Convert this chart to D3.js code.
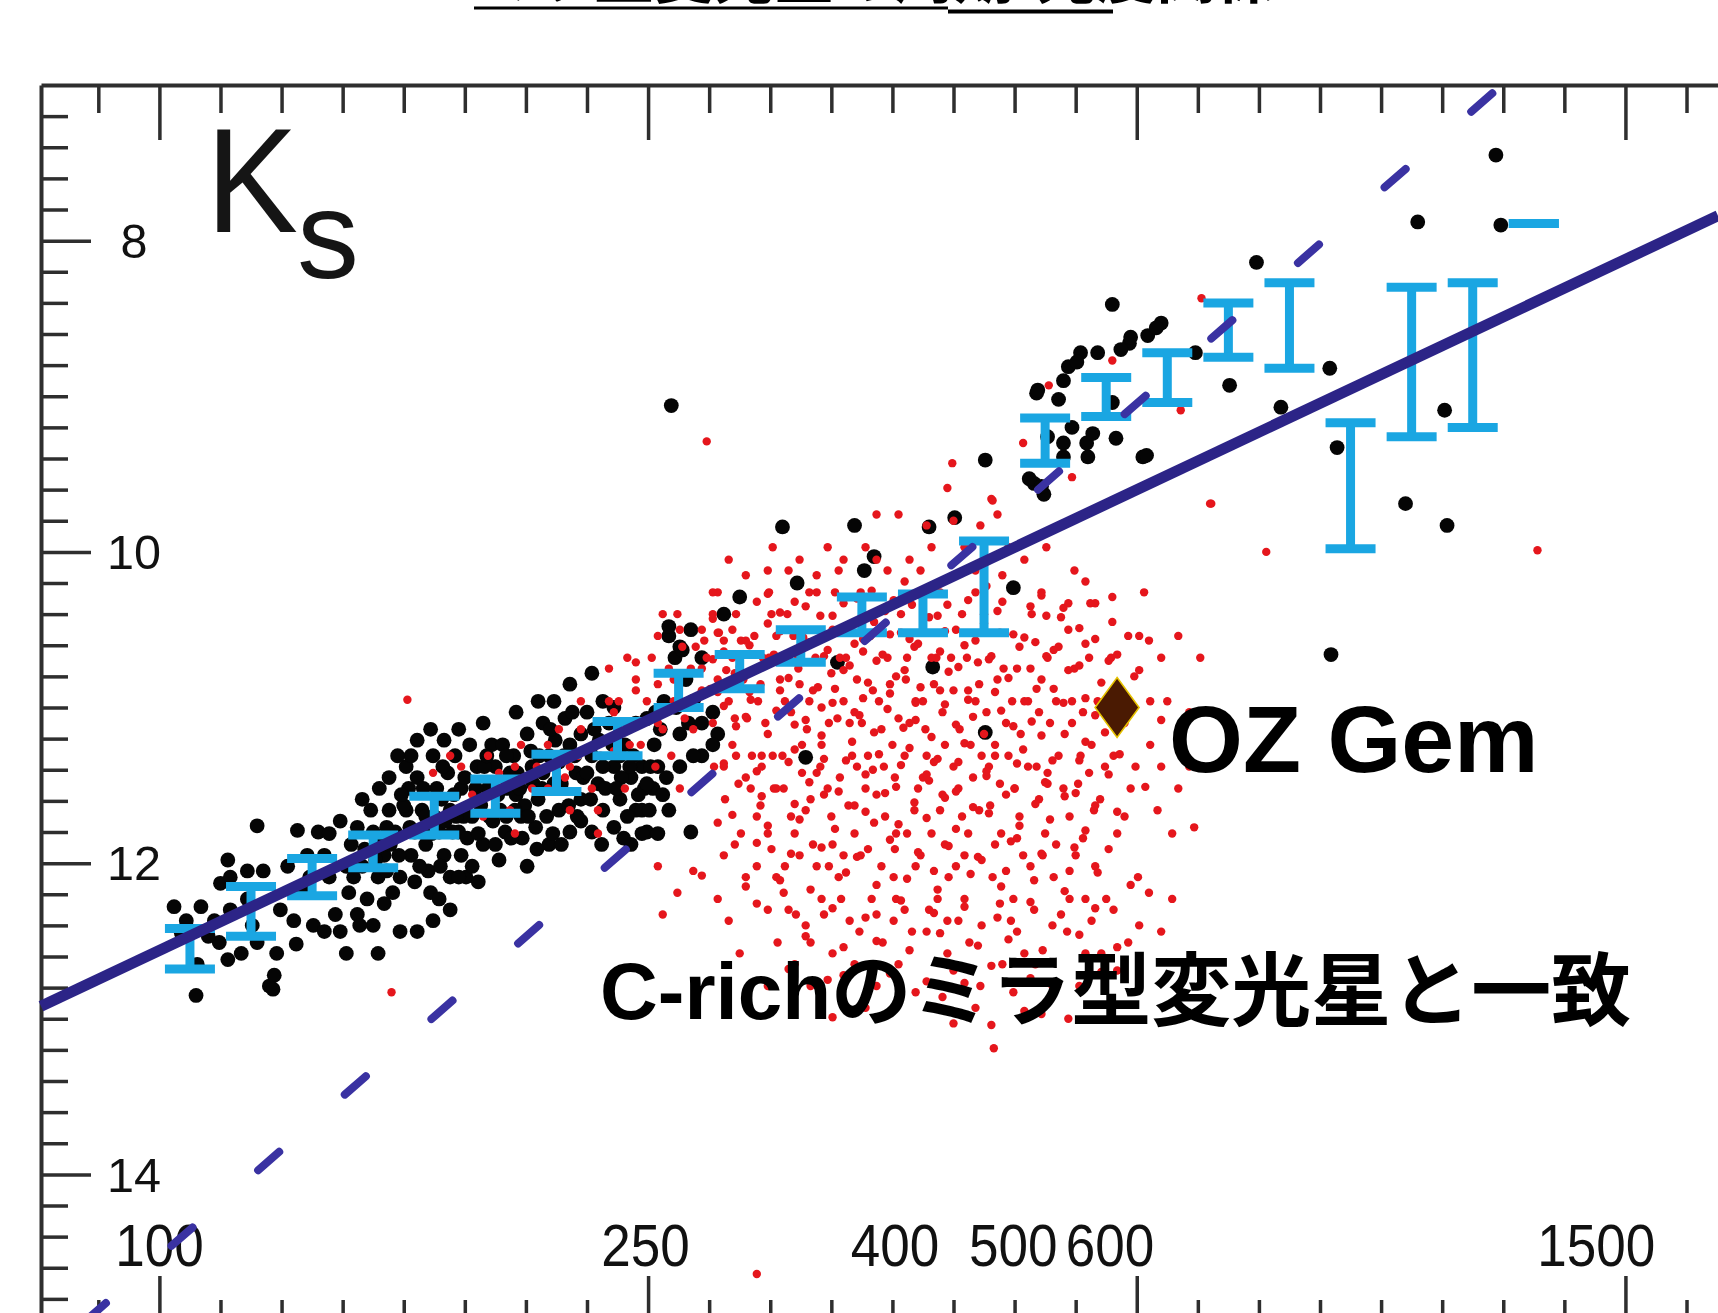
<!DOCTYPE html>
<html><head><meta charset="utf-8">
<script src="https://cdn.jsdelivr.net/npm/d3@7"></script>
<style>
html,body{margin:0;padding:0;background:#fff;overflow:hidden}
svg{display:block}
</style></head><body>
<svg id="chart" width="1718" height="1313"></svg>
<script>
// ---------------- data ----------------
const xTickLabels = [100, 250, 400, 500, 600, 1500];
const yTickLabels = [8, 10, 12, 14];
const xMajorLogP = [2.0, 2.4, 2.8, 3.2];

// binned means (log P centre, Ks upper end, Ks lower end)
const binLogP   = [2.025,2.075,2.125,2.175,2.225,2.275,2.325,2.375,2.425,2.475,2.525,2.575,2.625,2.675,
                   2.725,2.775,2.825,2.875,2.925,2.975,3.025,3.075,3.125];
const binKsTop  = [12.42,12.15,11.97,11.82,11.57,11.46,11.30,11.09,10.78,10.66,10.50,10.29,10.27,9.93,
                   9.14,8.88,8.72,8.40,8.27,9.17,8.30,8.27,7.89];
const binKsBot  = [12.68,12.47,12.21,12.03,11.82,11.68,11.54,11.31,11.00,10.88,10.71,10.52,10.52,10.52,
                   9.43,9.13,9.04,8.75,8.82,9.98,9.26,9.20,7.89];

// P-L relation (solid) and limit line (dashed): [period, Ks] end points
const plLine    = [[80, 12.92], [1887, 7.84]];
const limitLine = [[85.3, 15.0], [1255.5, 7.0]];

const ozGem = {name: "OZ Gem", period: 608, ks: 11.0};

// black points [log P, Ks]
const blackStars = [
[2.012,12.28],[2.034,12.28],[2.056,11.98],[2.080,11.76],[2.085,12.05],[2.105,12.02],[2.018,12.45],[2.049,12.51],[2.067,12.58],[2.031,12.65],
[2.030,12.85],[2.090,12.79],[2.094,12.72],[2.112,12.52],[2.117,12.17],[2.130,11.80],[2.139,12.09],[2.144,12.33],[2.153,12.58],[2.126,12.40],
[2.045,12.37],[2.072,12.23],[2.099,12.30],[2.135,11.95],[2.148,12.44],[2.050,12.13],[2.056,12.62],[2.093,12.81],[2.113,11.79],[2.080,12.51],
[2.157,11.88],[2.166,12.02],[2.175,11.80],[2.170,12.23],[2.179,12.09],[2.184,11.95],[2.188,11.66],[2.193,11.80],[2.197,12.09],[2.202,11.38],
[2.204,11.52],[2.206,11.31],[2.211,11.45],[2.215,11.66],[2.218,11.88],[2.220,12.05],[2.222,12.19],[2.224,11.31],[2.227,11.52],[2.229,11.80],
[2.233,11.95],[2.236,11.42],[2.238,11.66],[2.242,11.31],[2.245,11.80],[2.247,11.52],[2.251,12.09],[2.254,11.24],[2.256,11.70],[2.260,11.38],
[2.265,11.88],[2.269,11.52],[2.272,11.24],[2.273,11.73],[2.224,12.37],[2.197,12.44],[2.175,12.40],[2.229,12.23],[2.238,12.09],[2.188,11.45],
[2.195,11.31],[2.247,11.95],[2.256,12.02],[2.148,11.73],[2.159,12.09],[2.173,11.66],[2.180,11.52],[2.209,11.80],[2.216,11.52],[2.231,11.59],
[2.240,11.80],[2.263,11.63],[2.275,11.38],[2.281,11.24],[2.284,11.52],[2.211,11.21],[2.222,11.14],[2.233,11.21],[2.245,11.14],[2.265,11.10],
[2.202,11.66],[2.206,11.95],[2.162,12.33],[2.184,12.26],[2.211,12.44],[2.238,12.30],[2.179,12.58],
[2.283,11.80],[2.290,11.31],[2.292,11.56],[2.296,11.70],[2.301,11.17],[2.305,11.38],[2.310,11.59],[2.314,11.10],[2.319,11.31],[2.323,11.49],
[2.327,11.66],[2.332,11.07],[2.336,11.24],[2.341,11.42],[2.345,11.59],[2.350,11.03],[2.354,11.31],[2.359,11.49],[2.363,11.66],[2.368,11.10],
[2.372,11.38],[2.377,11.59],[2.381,11.24],[2.386,11.45],[2.390,11.66],[2.395,11.38],[2.399,11.07],[2.404,11.52],[2.408,11.38],[2.292,11.03],
[2.310,10.96],[2.336,10.85],[2.354,10.78],[2.301,12.02],[2.319,11.88],[2.336,11.80],[2.354,11.80],[2.372,11.77],[2.386,11.88],[2.399,11.80],
[2.395,11.66],[2.377,11.31],[2.327,11.35],[2.345,11.17],[2.363,10.96],[2.287,11.42],[2.314,11.42],[2.278,11.98],[2.323,10.96],
[2.162,11.77],[2.168,11.91],[2.182,11.84],[2.186,12.05],[2.191,12.19],[2.200,11.63],[2.205,11.77],[2.213,12.02],[2.225,11.70],[2.232,11.38],
[2.241,11.56],[2.249,11.70],[2.252,11.84],[2.259,11.52],[2.266,11.38],[2.270,11.70],[2.277,11.56],[2.284,11.70],[2.293,11.42],[2.299,11.63],
[2.306,11.49],[2.311,11.31],[2.317,11.70],[2.324,11.21],[2.329,11.49],[2.335,11.63],[2.340,11.31],[2.347,11.45],[2.353,11.59],[2.360,11.21],
[2.365,11.52],[2.371,11.24],[2.378,11.45],[2.383,11.70],[2.388,11.31],[2.397,11.52],[2.405,11.24],[2.410,11.14],[2.297,11.84],[2.308,11.77],
[2.329,11.88],[2.345,11.73],[2.362,11.88],[2.380,11.84],[2.401,11.66],[2.412,11.56],[2.284,11.31],[2.304,11.28],[2.320,11.14],[2.338,11.03],
[2.356,11.14],[2.372,11.00],[2.390,11.10],[2.406,11.03],[2.423,11.00],[2.437,10.96],[2.433,11.10],[2.444,11.10],[2.453,11.03],
[2.413,10.96],[2.417,10.54],[2.422,10.68],[2.426,10.61],[2.431,10.82],[2.419,9.06],[2.435,10.50],[2.444,10.68],[2.426,11.38],[2.444,11.31],
[2.457,11.17],[2.417,11.66],[2.435,11.80],[2.462,10.40],[2.475,10.29],
[2.022,12.37],[2.040,12.47],[2.058,12.30],[2.076,12.40],[2.096,12.58],[2.110,12.37],[2.123,12.09],[2.135,12.44],[2.155,12.19],[2.164,12.40],
[2.177,11.98],[2.189,11.88],[2.198,11.56],[2.209,12.12],[2.223,11.81],[2.234,11.73],[2.243,11.70],[2.250,11.45],[2.261,11.81],[2.268,11.31],
[2.279,11.66],[2.288,11.84],[2.295,11.52],[2.302,11.70],[2.313,11.52],[2.322,11.81],[2.331,11.31],[2.342,11.70],[2.350,11.42],[2.363,11.38],
[2.374,11.52],[2.385,11.38],[2.392,11.56],[2.402,11.38],[2.415,11.45],[2.426,11.17],[2.437,11.31],[2.453,11.24],[2.408,11.81],[2.395,11.81],
[2.166,11.59],[2.186,11.77],[2.196,11.95],[2.218,11.70],[2.230,12.02],[2.245,12.09],[2.261,12.12],[2.275,11.88],[2.291,11.66],[2.309,11.91],
[2.058,12.09],[2.072,12.05],[2.121,11.95],[2.139,11.81],[2.153,12.02],
[2.510,9.84],[2.569,9.83],[2.630,9.84],[2.651,9.78],[2.676,9.41],[2.716,9.56],[2.760,9.39],[2.805,9.39],[2.585,10.03],[2.577,10.12],
[2.522,10.20],[2.699,10.23],[2.417,10.48],[2.428,10.63],[2.529,11.32],[2.399,11.49],[2.633,10.74],[2.676,11.16],[2.555,10.71],[2.712,9.53],
[2.724,9.63],
[3.094,7.45],[3.030,7.88],[3.098,7.90],[2.898,8.14],[2.780,8.41],[2.820,8.53],[2.809,8.61],[2.794,8.66],[2.787,8.70],[2.754,8.72],
[2.744,8.81],[2.718,8.98],[2.736,9.02],[2.848,8.72],[2.876,8.93],[2.958,8.82],[2.918,9.07],[3.052,9.09],[2.964,9.33],[3.020,9.69],
[3.054,9.83],[2.783,9.27],[2.808,9.38],[2.759,9.30],[2.740,9.30],[2.727,9.26],[2.722,9.58],[2.780,9.04],[2.719,8.96],[2.740,8.90],
[2.751,8.78],[2.768,8.72],[2.795,8.62],[2.816,8.56],[2.747,9.20],[2.764,9.24],[2.740,9.39],[2.959,10.66]
];

// red points [log P, Ks]
const redStars = [
[2.203,10.95],[2.224,11.42],[2.238,11.31],[2.256,11.56],[2.269,11.31],[2.278,11.42],[2.265,11.70],[2.247,11.38],[2.287,11.66],[2.296,11.24],
[2.309,11.38],[2.318,11.52],[2.327,11.14],[2.336,11.38],[2.345,10.96],[2.354,11.52],[2.361,11.31],[2.368,10.75],[2.372,11.03],[2.291,11.81],
[2.336,11.66],[2.359,11.81],[2.376,10.96],[2.383,10.68],[2.390,10.82],[2.394,11.10],[2.399,10.96],[2.403,10.68],[2.408,10.85],[2.412,11.14],
[2.417,10.75],[2.421,10.96],[2.426,10.50],[2.430,11.07],[2.435,10.75],[2.439,10.61],[2.444,10.89],[2.408,12.02],[2.424,12.19],[2.437,12.05],
[2.412,12.33],[2.390,10.89],[2.385,11.24],[2.406,11.38],[2.426,11.52],[2.448,9.29],[2.448,10.68],[2.453,10.40],[2.457,10.82],[2.462,10.57],
[2.466,10.96],[2.469,10.68],[2.472,10.40],[2.478,10.82],[2.481,11.07],[2.487,10.54],[2.490,10.96],[2.494,10.68],[2.453,11.10],[2.462,11.38],
[2.472,11.31],[2.484,11.52],[2.493,11.38],[2.457,11.74],[2.471,11.88],[2.480,12.09],[2.489,11.70],[2.498,11.81],[2.475,12.58],[2.498,12.79],
[2.457,12.23],[2.466,12.37],[2.499,10.26],[2.505,10.54],[2.508,10.82],[2.514,10.40],[2.517,11.03],[2.523,10.68],[2.526,11.24],[2.532,10.26],
[2.535,10.89],[2.541,11.38],[2.544,10.54],[2.548,11.10],[2.502,11.31],[2.511,11.52],[2.520,11.81],[2.529,11.66],[2.538,12.02],[2.547,11.52],
[2.505,12.09],[2.515,12.30],[2.533,12.51],[2.542,12.23],[2.506,12.51],[2.520,12.65],[2.551,11.88],[2.502,9.97],[2.524,10.05],[2.547,9.97],
[2.553,10.26],[2.557,10.68],[2.560,10.96],[2.564,10.47],[2.567,11.31],[2.571,10.82],[2.575,11.10],[2.578,11.52],[2.582,10.54],[2.585,11.74],
[2.589,10.96],[2.593,11.38],[2.596,10.68],[2.600,11.24],[2.603,11.81],[2.556,12.09],[2.565,12.37],[2.574,11.95],[2.583,12.23],[2.592,12.51],
[2.601,12.09],[2.560,10.05],[2.578,9.97],[2.596,10.12],[2.605,9.76],[2.587,9.76],[2.569,12.65],[2.587,12.79],[2.601,12.37],[2.607,10.40],
[2.611,10.82],[2.614,11.10],[2.618,10.61],[2.621,11.52],[2.625,10.96],[2.628,11.31],[2.632,11.81],[2.636,10.68],[2.639,11.66],[2.643,11.24],
[2.646,12.09],[2.650,10.89],[2.654,11.52],[2.657,10.40],[2.610,12.30],[2.619,12.02],[2.628,12.44],[2.637,12.23],[2.645,12.58],[2.654,12.37],
[2.614,10.05],[2.632,9.97],[2.645,9.59],[2.650,9.80],[2.628,9.83],[2.641,12.86],[2.659,11.95],[2.661,10.68],[2.664,11.24],[2.668,10.96],
[2.671,11.66],[2.675,10.40],[2.679,11.38],[2.682,12.09],[2.686,10.82],[2.689,11.81],[2.693,11.10],[2.697,12.37],[2.700,11.52],[2.704,10.61],
[2.707,11.95],[2.711,10.96],[2.663,12.51],[2.672,12.79],[2.681,13.04],[2.683,13.19],[2.690,12.65],[2.699,12.23],[2.708,12.58],[2.681,9.66],
[2.686,9.76],[2.668,10.12],[2.695,9.97],[2.677,10.22],[2.714,10.40],[2.718,11.38],[2.722,10.82],[2.725,11.81],[2.729,11.10],[2.732,12.09],
[2.736,10.61],[2.740,11.52],[2.743,12.44],[2.747,10.96],[2.750,11.95],[2.754,11.31],[2.758,12.23],[2.761,10.68],[2.765,11.66],[2.717,12.65],
[2.731,12.79],[2.744,13.00],[2.758,12.58],[2.726,9.97],[2.749,10.12],[2.766,10.33],[2.768,10.96],[2.774,11.38],[2.779,10.68],[2.784,11.81],
[2.790,11.10],[2.795,11.52],[2.801,12.09],[2.806,10.26],[2.811,11.24],[2.817,11.66],[2.775,12.23],[2.793,12.51],[2.810,12.19],[2.771,12.58],
[2.802,10.54],[2.820,10.68],[2.825,10.96],[2.834,10.54],[2.843,11.38],[2.847,11.77],[2.829,11.81],[2.861,9.69],[2.489,14.64],[2.190,12.83],
[2.451,10.88],[2.458,10.52],[2.464,10.76],[2.471,11.07],[2.476,10.57],[2.483,10.90],[2.489,10.75],[2.496,11.10],[2.501,10.40],[2.506,10.68],
[2.512,10.96],[2.519,10.54],[2.524,10.85],[2.530,11.14],[2.537,10.68],[2.542,11.00],[2.550,10.78],[2.555,11.07],[2.562,10.68],[2.569,11.03],
[2.576,10.64],[2.584,10.89],[2.591,11.14],[2.598,10.85],[2.605,11.07],[2.612,10.68],[2.619,10.96],[2.627,11.14],[2.634,10.85],[2.641,11.03],
[2.648,10.68],[2.655,11.14],[2.662,10.89],[2.670,10.71],[2.677,11.03],[2.684,11.24],[2.691,10.75],[2.698,10.96],[2.705,11.17],[2.713,10.75],
[2.720,11.03],[2.727,10.68],[2.734,10.96],[2.741,11.17],[2.749,10.75],[2.756,11.03],[2.763,11.24],
[2.454,11.38],[2.463,11.59],[2.474,11.49],[2.485,11.31],[2.492,11.63],[2.503,11.52],[2.510,11.31],[2.517,11.70],[2.526,11.42],[2.533,11.59],
[2.542,11.24],[2.550,11.70],[2.557,11.45],[2.564,11.63],[2.571,11.38],[2.580,11.31],[2.587,11.56],[2.594,11.70],[2.602,11.45],[2.610,11.31],
[2.618,11.66],[2.625,11.45],[2.634,11.35],[2.641,11.56],[2.650,11.38],[2.657,11.70],[2.666,11.45],[2.673,11.31],[2.680,11.63],[2.688,11.49],
[2.695,11.31],[2.704,11.70],[2.711,11.38],[2.720,11.59],[2.727,11.49],[2.736,11.31],[2.745,11.70],[2.752,11.49],[2.761,11.42],[2.770,11.59],
[2.781,11.31],[2.790,11.70],[2.799,11.38],
[2.462,11.95],[2.476,11.81],[2.489,12.02],[2.501,11.91],[2.512,12.02],[2.524,11.95],[2.535,11.88],[2.548,12.02],[2.560,11.95],[2.569,11.81],
[2.580,11.91],[2.591,12.02],[2.602,11.91],[2.612,11.81],[2.623,11.95],[2.634,12.05],[2.643,11.88],[2.652,12.02],[2.662,11.81],[2.673,11.98],
[2.684,11.88],[2.693,12.05],[2.702,11.84],[2.713,12.02],[2.723,11.95],[2.734,11.88],[2.745,12.05],[2.756,11.84],[2.766,12.02],[2.777,11.91],
[2.498,12.30],[2.511,12.19],[2.529,12.40],[2.544,12.33],[2.558,12.23],[2.573,12.44],[2.587,12.33],[2.603,12.23],[2.616,12.44],[2.630,12.30],
[2.645,12.37],[2.659,12.23],[2.673,12.40],[2.688,12.26],[2.702,12.44],[2.716,12.30],[2.731,12.40],[2.745,12.23],[2.763,12.37],[2.781,12.30],
[2.802,12.40],
[2.533,12.79],[2.560,12.72],[2.578,12.93],[2.605,12.65],[2.628,12.76],[2.650,12.69],[2.668,12.93],[2.699,12.83],[2.722,12.97],[2.753,12.79],
[2.784,12.69],[2.551,12.58],[2.619,12.83],
[2.515,10.12],[2.538,10.15],[2.556,10.12],[2.574,10.26],[2.587,10.05],[2.610,10.19],[2.623,10.12],[2.639,10.26],[2.659,9.97],[2.672,9.83],
[2.690,10.15],[2.708,10.05],[2.722,10.26],[2.740,10.36],[2.758,10.19],[2.780,10.29],[2.793,10.54],[2.811,10.96],[2.820,11.38],[2.834,11.52],
[2.843,11.03],[2.852,10.68],[2.829,12.23],[2.820,12.44],
[2.649,9.43],[2.707,9.30],[2.728,8.93],[2.780,8.77],[2.836,9.09],[2.860,9.69],[2.906,10.00],[3.128,9.99],[2.682,9.67],[2.747,9.52],[2.853,8.37],
[2.489,10.32],[2.508,10.39],[2.529,10.35],[2.551,10.41],[2.571,10.30],[2.594,10.38],[2.616,10.34],[2.637,10.41],[2.662,10.31],[2.686,10.38],
[2.713,10.35],[2.738,10.42],[2.762,10.33],
[2.453,10.43],[2.469,10.50],[2.498,10.46],[2.520,10.52],[2.541,10.41],[2.565,10.49],[2.585,10.45],[2.607,10.52],[2.630,10.42],[2.652,10.50],
[2.675,10.46],[2.699,10.53],[2.726,10.41],[2.753,10.49],[2.780,10.45],
[2.446,10.57],[2.462,10.64],[2.483,10.60],[2.503,10.66],[2.527,10.55],[2.547,10.63],[2.569,10.59],[2.592,10.66],[2.614,10.56],[2.639,10.64],
[2.659,10.60],[2.681,10.67],[2.708,10.55],[2.732,10.63],[2.758,10.59],[2.784,10.66],[2.810,10.57],
[2.471,10.78],[2.492,10.85],[2.515,10.81],[2.539,10.87],[2.560,10.76],[2.580,10.84],[2.603,10.80],[2.623,10.87],[2.646,10.77],[2.671,10.85],
[2.695,10.81],[2.718,10.88],[2.744,10.76],[2.771,10.84],[2.798,10.80],
[2.462,10.99],[2.480,11.06],[2.505,11.02],[2.529,11.08],[2.551,10.97],[2.573,11.05],[2.596,11.01],[2.619,11.08],[2.643,10.98],[2.666,11.06],
[2.689,11.02],[2.714,11.09],[2.740,10.97],[2.766,11.05],[2.793,11.01],[2.820,11.08],
[2.469,11.24],[2.493,11.31],[2.520,11.27],[2.544,11.33],[2.567,11.22],[2.589,11.30],[2.614,11.26],[2.637,11.33],[2.659,11.23],[2.684,11.31],
[2.707,11.27],[2.731,11.34],[2.758,11.22],[2.786,11.30],
[2.480,11.45],[2.505,11.52],[2.532,11.48],[2.556,11.54],[2.578,11.43],[2.603,11.51],[2.630,11.47],[2.652,11.54],[2.677,11.44],[2.700,11.52],
[2.725,11.48],[2.750,11.55],[2.777,11.43],[2.807,11.51],
[2.469,11.69],[2.498,11.76],[2.524,11.72],[2.553,11.78],[2.578,11.67],[2.605,11.75],[2.628,11.71],[2.652,11.78],[2.679,11.68],[2.704,11.76],
[2.729,11.72],[2.758,11.79],[2.784,11.67],
[2.489,11.87],[2.517,11.94],[2.542,11.90],[2.571,11.96],[2.598,11.85],[2.621,11.93],[2.646,11.89],[2.670,11.96],[2.697,11.86],[2.722,11.94],
[2.749,11.90],
[2.444,12.08],[2.480,12.15],[2.508,12.11],[2.533,12.17],[2.562,12.06],[2.587,12.14],[2.612,12.10],[2.637,12.17],[2.664,12.07],[2.689,12.15],
[2.716,12.11],[2.741,12.18],[2.768,12.06],[2.795,12.14],
[2.489,12.26],[2.521,12.33],[2.551,12.29],[2.578,12.35],[2.607,12.24],[2.634,12.32],[2.659,12.28],[2.686,12.35],[2.713,12.25],[2.738,12.33],
[2.766,12.29],
[2.529,12.47],[2.560,12.54],[2.587,12.50],[2.614,12.56],[2.639,12.45],[2.670,12.53],[2.695,12.49],[2.723,12.56],[2.753,12.46],[2.784,12.54],
[2.515,12.68],[2.547,12.75],[2.598,12.71],[2.659,12.77],[2.681,12.66],[2.713,12.74],[2.771,12.70],
[2.551,12.99],[2.650,13.03],[2.708,12.95],
[2.291,11.38],[2.305,11.52],[2.318,11.24],[2.332,11.45],[2.343,11.31],[2.359,11.66],[2.372,11.28],[2.381,11.52],[2.394,11.24],[2.408,11.10],
[2.419,11.31],[2.431,10.96],[2.444,10.75],[2.408,10.54],[2.424,10.40],[2.457,10.26],[2.480,10.15],[2.498,10.12],[2.466,10.05],[2.390,10.71],
[2.368,10.96],[2.345,11.14],
[2.498,10.27],[2.520,10.32],[2.538,10.26],[2.560,10.33],[2.583,10.25],[2.601,10.31],[2.623,10.28],[2.645,10.34],[2.668,10.26],[2.690,10.32],
[2.722,10.28],[2.744,10.33],
[2.457,10.52],[2.480,10.57],[2.508,10.51],[2.532,10.58],[2.551,10.50],[2.576,10.56],[2.598,10.53],[2.621,10.59],[2.643,10.51],[2.668,10.57],
[2.688,10.52],[2.717,10.58],[2.744,10.50],[2.766,10.56],
[2.453,10.69],[2.475,10.74],[2.499,10.68],[2.523,10.75],[2.544,10.67],[2.565,10.73],[2.587,10.70],[2.610,10.76],[2.632,10.68],[2.654,10.74],
[2.679,10.69],[2.702,10.75],[2.726,10.67],[2.753,10.73],[2.777,10.70],[2.802,10.76],
[2.457,10.90],[2.484,10.95],[2.508,10.89],[2.532,10.96],[2.553,10.88],[2.576,10.94],[2.598,10.91],[2.619,10.97],[2.639,10.89],[2.662,10.95],
[2.684,10.90],[2.708,10.96],[2.732,10.88],[2.758,10.94],[2.783,10.91],
[2.472,11.12],[2.498,11.17],[2.520,11.11],[2.542,11.18],[2.565,11.10],[2.585,11.16],[2.609,11.13],[2.632,11.19],[2.652,11.11],[2.675,11.17],
[2.699,11.12],[2.722,11.18],[2.747,11.10],[2.774,11.16],
[2.462,11.36],[2.489,11.41],[2.515,11.35],[2.538,11.42],[2.562,11.34],[2.584,11.40],[2.607,11.37],[2.628,11.43],[2.654,11.35],[2.677,11.41],
[2.702,11.36],[2.727,11.42],[2.753,11.34],
[2.493,11.57],[2.520,11.62],[2.544,11.56],[2.569,11.63],[2.594,11.55],[2.618,11.61],[2.643,11.58],[2.666,11.64],[2.693,11.56],[2.717,11.62],
[2.741,11.57],[2.766,11.63],
[2.412,10.40],[2.428,10.61],[2.444,10.50],[2.453,10.26],[2.437,11.14],[2.421,10.82]
];

// ---------------- drawing ----------------
const W = 1718, H = 1313;
const svg = d3.select("#chart");
svg.append("rect").attr("width", W).attr("height", H).attr("fill", "#fff");

const x = d3.scaleLog().domain([80, 1887]).range([41, 1718]);
const y = d3.scaleLinear().domain([7, 15]).range([85, 1330]);
const px = lp => x(Math.pow(10, lp));

const axisColor = "#2e2e2e";
const labelFont = "'Liberation Sans',Arial,sans-serif";

// tick positions
const majorP = xMajorLogP.map(v => Math.pow(10, v));
const minorP = d3.range(1.95, 3.3, 0.05)
  .filter(v => !xMajorLogP.some(m => Math.abs(m - v) < 1e-6))
  .map(v => Math.pow(10, v));
const minorKs = d3.range(7.2, 15, 0.2).filter(v => Math.abs(v / 2 - Math.round(v / 2)) > 1e-6);

function styleAxis(g, keepDomain) {
  g.select(".domain").attr("stroke", axisColor).attr("stroke-width", 4).style("display", keepDomain ? null : "none");
  g.selectAll(".tick line").attr("stroke", axisColor).attr("stroke-width", 3.5);
  g.selectAll(".tick text").remove();
}

// top axis
svg.append("g").attr("transform", "translate(0,85)")
  .call(d3.axisBottom(x).tickValues(minorP).tickSize(28).tickSizeOuter(0).tickFormat(""))
  .call(g => styleAxis(g, true));
svg.append("g").attr("transform", "translate(0,85)")
  .call(d3.axisBottom(x).tickValues(majorP).tickSize(55).tickSizeOuter(0).tickFormat(""))
  .call(g => styleAxis(g, false));
// bottom axis (its line lies just below the visible area)
svg.append("g").attr("transform", "translate(0,1330)")
  .call(d3.axisTop(x).tickValues(minorP).tickSize(30).tickSizeOuter(0).tickFormat(""))
  .call(g => styleAxis(g, true));
svg.append("g").attr("transform", "translate(0,1330)")
  .call(d3.axisTop(x).tickValues(majorP).tickSize(54).tickSizeOuter(0).tickFormat(""))
  .call(g => styleAxis(g, false));
// left axis
svg.append("g").attr("transform", "translate(41,0)")
  .call(d3.axisRight(y).tickValues(minorKs).tickSize(27).tickSizeOuter(0).tickFormat(""))
  .call(g => styleAxis(g, true));
svg.append("g").attr("transform", "translate(41,0)")
  .call(d3.axisRight(y).tickValues(yTickLabels).tickSize(50).tickSizeOuter(0).tickFormat(""))
  .call(g => styleAxis(g, false));

// y labels
svg.append("g").selectAll("text").data(yTickLabels).join("text")
  .attr("x", 134).attr("y", d => y(d)).attr("dy", "0.36em")
  .attr("text-anchor", "middle")
  .attr("font-family", labelFont).attr("font-size", 48).attr("fill", "#111")
  .attr("textLength", d => String(d).length * 27).attr("lengthAdjust", "spacingAndGlyphs")
  .text(d => d);
// x labels
svg.append("g").selectAll("text").data(xTickLabels).join("text")
  .attr("x", d => x(d)).attr("y", 1266)
  .attr("text-anchor", "middle")
  .attr("font-family", labelFont).attr("font-size", 60).attr("fill", "#111")
  .attr("textLength", d => String(d).length * 29.5).attr("lengthAdjust", "spacingAndGlyphs")
  .text(d => d);

// points
svg.append("g").selectAll("circle").data(blackStars).join("circle")
  .attr("cx", d => px(d[0])).attr("cy", d => y(d[1])).attr("r", 7.4).attr("fill", "#050505");
svg.append("g").selectAll("circle").data(redStars).join("circle")
  .attr("cx", d => px(d[0])).attr("cy", d => y(d[1])).attr("r", 4.2).attr("fill", "#e5161c");

// binned error bars
const cyan = "#1aa6e2";
const bins = binLogP.map((lp, i) => ({lp, top: binKsTop[i], bot: binKsBot[i]}));
const gb = svg.append("g");
gb.selectAll("line.stem").data(bins.filter(b => b.bot > b.top)).join("line").attr("class", "stem")
  .attr("x1", d => px(d.lp)).attr("x2", d => px(d.lp))
  .attr("y1", d => y(d.top)).attr("y2", d => y(d.bot))
  .attr("stroke", cyan).attr("stroke-width", 9);
["top", "bot"].forEach(k => {
  gb.selectAll("line.cap-" + k).data(bins).join("line").attr("class", "cap-" + k)
    .attr("x1", d => px(d.lp) - 25).attr("x2", d => px(d.lp) + 25)
    .attr("y1", d => y(d[k])).attr("y2", d => y(d[k]))
    .attr("stroke", cyan).attr("stroke-width", 9);
});

// lines
const lineGen = d3.line().x(d => x(d[0])).y(d => y(d[1]));
svg.append("path").datum(limitLine).attr("d", lineGen)
  .attr("fill", "none").attr("stroke", "#3a32a2").attr("stroke-width", 8)
  .attr("stroke-linecap", "round").attr("stroke-dasharray", "28 87").attr("stroke-dashoffset", 102);
svg.append("path").datum(plLine).attr("d", lineGen)
  .attr("fill", "none").attr("stroke", "#2c2487").attr("stroke-width", 11);

// OZ Gem
const ox = x(ozGem.period), oy = y(ozGem.ks);
svg.append("path")
  .attr("d", `M${ox},${oy - 30}L${ox + 22},${oy}L${ox},${oy + 30}L${ox - 22},${oy}Z`)
  .attr("fill", "#4a1a02").attr("stroke", "#e6c200").attr("stroke-width", 1.6);
svg.append("text").attr("x", ox + 52).attr("y", oy + 64)
  .attr("font-family", "'Liberation Sans',Arial,sans-serif").attr("font-weight", "bold")
  .attr("font-size", 95).attr("fill", "#000").text(ozGem.name);

// Ks label
svg.append("text").attr("x", 206).attr("y", 232)
  .attr("font-family", "'Liberation Sans',Arial,sans-serif").attr("font-size", 148).attr("fill", "#151515")
  .attr("textLength", 92).attr("lengthAdjust", "spacingAndGlyphs").text("K");
svg.append("text").attr("x", 297).attr("y", 278)
  .attr("font-family", "'Liberation Sans',Arial,sans-serif").attr("font-size", 124).attr("fill", "#151515").text("s");

// annotation
svg.append("text").attr("x", 600).attr("y", 1019)
  .attr("font-family", "'Liberation Sans','Noto Sans CJK JP',sans-serif").attr("font-weight", "bold")
  .attr("font-size", 80).attr("fill", "#000").text("C-richのミラ型変光星と一致");

// title, cut off by the top edge as in the source image
const title = svg.append("text").attr("x", 474).attr("y", -2)
  .attr("font-family", "'Noto Sans CJK JP',sans-serif").attr("font-weight", "bold")
  .attr("font-size", 60).attr("fill", "#000");
title.append("tspan").text("ミラ型変光星の周期-");
title.append("tspan").text("光度関係");
svg.append("line").attr("x1", 474).attr("x2", 948).attr("y1", 8).attr("y2", 8)
  .attr("stroke", "#000").attr("stroke-width", 3);
svg.append("line").attr("x1", 948).attr("x2", 1113).attr("y1", 11.5).attr("y2", 11.5)
  .attr("stroke", "#000").attr("stroke-width", 4);
</script></body></html>
